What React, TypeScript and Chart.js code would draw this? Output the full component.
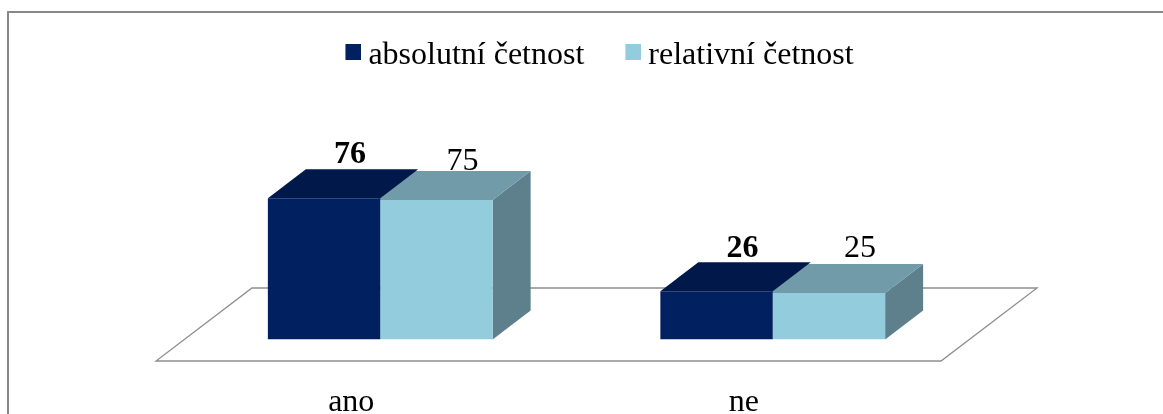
import React, { useEffect, useRef } from "react";
import { Chart, registerables } from "chart.js";

Chart.register(...registerables);

const categories = ["ano", "ne"];
const seriesNames = ["absolutní četnost", "relativní četnost"];
const absolutni = [76, 26];
const relativni = [75, 25];
const yMax = 138.5;

const FRONT = ["#002060", "#93CDDD"];
const TOP = ["#00184A", "#719BA8"];
const SIDE = "#5E808C";
const FONT = "'Liberation Serif'";
const DEPTH_X = 38;
const DEPTH_Y = 29;
// small per-label nudges [dx from bar centre, dy above bar top]
const LABEL_NUDGE = [
  [[26, 43], [26, 42]],
  [[26, 38], [31, 44]],
];

function swatch(color: string) {
  const c = document.createElement("canvas");
  c.width = 19;
  c.height = 24;
  const g = c.getContext("2d")!;
  g.fillStyle = color;
  g.fillRect(3, 0, 16, 16);
  return c;
}

const box3d = {
  id: "box3d",
  beforeDraw(chart: any) {
    const { ctx, width, height } = chart;
    ctx.save();
    ctx.fillStyle = "#ffffff";
    ctx.fillRect(0, 0, width, height);
    ctx.fillStyle = "#888888";
    ctx.fillRect(7, 11, 2, height - 11);
    ctx.fillRect(7, 11, width - 7, 2);
    ctx.restore();
  },
  beforeDatasetsDraw(chart: any) {
    const { ctx, chartArea } = chart;
    const a = chartArea;
    ctx.save();
    // floor
    const fy = a.bottom + 21.5;
    const by = a.bottom - 51.5;
    const fl = a.left - 28;
    const fr = a.right - 28;
    ctx.strokeStyle = "#8E8E8E";
    ctx.lineWidth = 1.3;
    ctx.beginPath();
    ctx.moveTo(fl, fy);
    ctx.lineTo(fr, fy);
    ctx.lineTo(fr + 96, by);
    ctx.lineTo(fl + 96, by);
    ctx.closePath();
    ctx.stroke();

    const metas = [chart.getDatasetMeta(0), chart.getDatasetMeta(1)];
    // value labels lie behind the top faces
    ctx.fillStyle = "#000";
    ctx.textAlign = "center";
    ctx.textBaseline = "middle";
    metas.forEach((m: any, d: number) => {
      ctx.font = `${d === 0 ? "bold " : ""}32px ${FONT}`;
      m.data.forEach((b: any, i: number) => {
        const v = chart.data.datasets[d].data[i];
        const [dx, dy] = LABEL_NUDGE[d][i];
        ctx.fillText(String(v), b.x + dx, b.y - dy);
      });
    });
    // side face of the rear-most (right) series
    metas[1].data.forEach((b: any) => {
      const r = b.x + b.width / 2;
      ctx.fillStyle = SIDE;
      ctx.beginPath();
      ctx.moveTo(r, b.y);
      ctx.lineTo(r + DEPTH_X, b.y - DEPTH_Y);
      ctx.lineTo(r + DEPTH_X, b.base - DEPTH_Y);
      ctx.lineTo(r, b.base);
      ctx.closePath();
      ctx.fill();
    });
    // top faces; the left series overlaps the right one
    [1, 0].forEach((d) => {
      metas[d].data.forEach((b: any) => {
        const l = b.x - b.width / 2 - (d === 1 ? 4 : 0);
        const r = b.x + b.width / 2;
        ctx.fillStyle = TOP[d];
        ctx.beginPath();
        ctx.moveTo(l, b.y);
        ctx.lineTo(l + DEPTH_X, b.y - DEPTH_Y);
        ctx.lineTo(r + DEPTH_X, b.y - DEPTH_Y);
        ctx.lineTo(r, b.y);
        ctx.closePath();
        ctx.fill();
      });
    });
    ctx.restore();
  },
};

export default function App() {
  const ref = useRef<HTMLCanvasElement>(null);
  useEffect(() => {
    const swatches = FRONT.map(swatch);
    const chart = new Chart(ref.current!, {
      type: "bar",
      data: {
        labels: categories,
        datasets: [
          { label: seriesNames[0], data: absolutni, backgroundColor: FRONT[0], barPercentage: 1, categoryPercentage: 0.5727 },
          { label: seriesNames[1], data: relativni, backgroundColor: FRONT[1], barPercentage: 1, categoryPercentage: 0.5727 },
        ],
      },
      plugins: [box3d],
      options: {
        responsive: false,
        animation: false,
        layout: { padding: { top: -7, left: 42, right: 0, bottom: 0 } },
        plugins: {
          tooltip: { enabled: false },
          legend: {
            position: "top",
            labels: {
              usePointStyle: true,
              pointStyleWidth: 1,
              padding: 47,
              color: "#000",
              font: { family: FONT, size: 32 },
              generateLabels: (c: any) =>
                Chart.defaults.plugins.legend.labels
                  .generateLabels(c)
                  .map((it: any, i: number) => ({ ...it, pointStyle: swatches[i] })),
            },
          },
        },
        scales: {
          x: {
            grid: { display: false, drawTicks: false },
            border: { display: false },
            ticks: {
              color: "#000",
              font: { family: FONT, size: 32 },
              labelOffset: -29,
              padding: 44,
              maxRotation: 0,
              autoSkip: false,
            },
            afterFit: (s: any) => {
              s.height = 74.5;
            },
          },
          y: {
            min: 0,
            max: yMax,
            grid: { display: false },
            border: { display: false },
            ticks: { display: false },
            afterFit: (s: any) => {
              s.width = 142;
            },
          },
          yRight: {
            position: "right",
            min: 0,
            max: yMax,
            grid: { display: false },
            border: { display: false },
            ticks: { display: false },
            afterFit: (s: any) => {
              s.width = 194;
            },
          },
        },
      } as any,
    });
    return () => chart.destroy();
  }, []);
  return (
    <div style={{ position: "fixed", left: 0, top: 0, width: 1163, height: 414, overflow: "hidden" }}>
      <canvas ref={ref} width={1163} height={414} style={{ display: "block" }} />
    </div>
  );
}
